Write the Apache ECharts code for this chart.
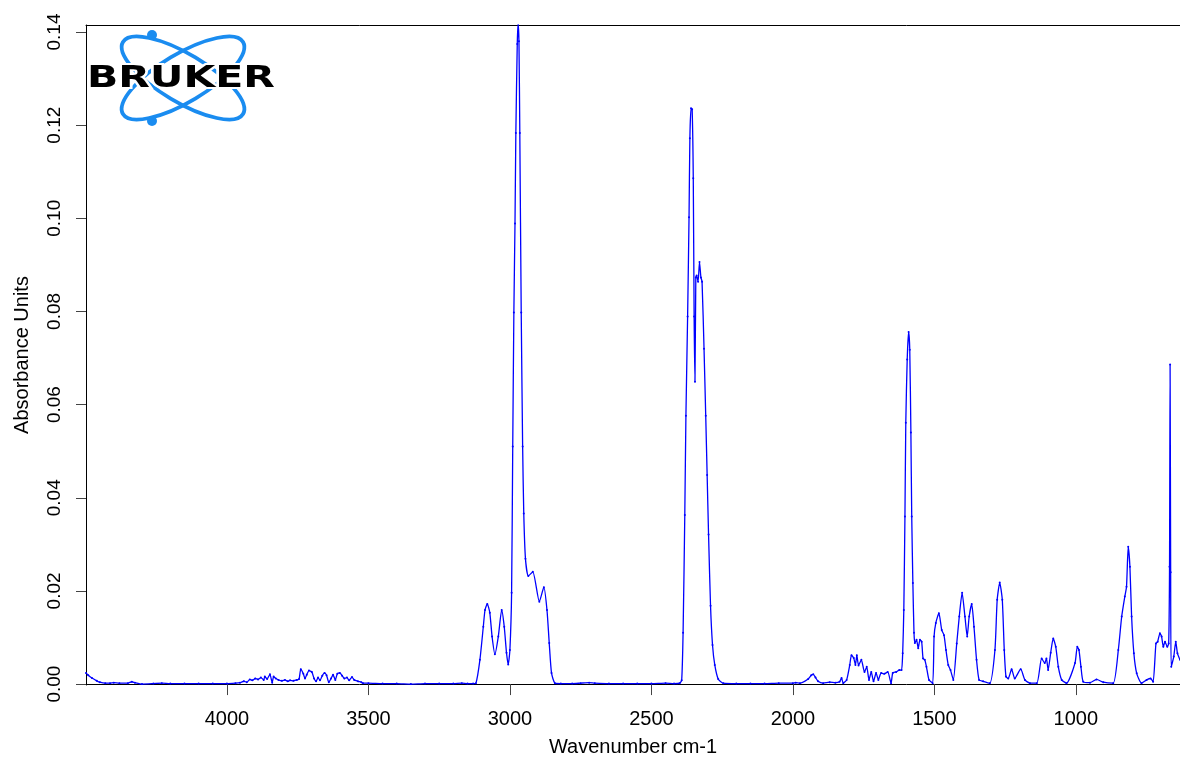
<!DOCTYPE html>
<html>
<head>
<meta charset="utf-8">
<title>IR spectrum</title>
<script src="https://cdn.jsdelivr.net/npm/echarts@6/dist/echarts.min.js"></script>
<style>
  html, body { margin: 0; padding: 0; background: #fff; }
  #chart { width: 1180px; height: 763px; }
</style>
</head>
<body>
<div id="chart"></div>
<script>
// wavenumber (cm-1), read left to right off the picture
const wavenumbers = [
  4498, 4490, 4477, 4460, 4449, 4430, 4413, 4400, 4380, 4350, 4336, 4325, 4300, 4260, 4230, 4200, 4150, 4100, 4050, 4000,
  3970, 3954, 3940, 3930, 3919, 3910, 3900, 3890, 3880, 3870, 3866, 3858, 3848, 3840, 3835, 3827, 3818, 3806, 3795, 3785,
  3777, 3765, 3753, 3745, 3739, 3730, 3724, 3718, 3710, 3700, 3692, 3685, 3678, 3671, 3663, 3655, 3648, 3640, 3632, 3625,
  3617, 3610, 3601, 3593, 3585, 3576, 3568, 3558, 3550, 3537, 3525, 3519, 3500, 3450, 3400, 3350, 3300, 3250, 3200, 3170,
  3150, 3130, 3120,
  3106, 3094, 3088, 3080, 3071, 3063, 3053, 3041, 3029, 3020, 3012, 3006, 3000, 2994, 2990, 2986, 2982, 2979, 2974, 2971,
  2968, 2965, 2960, 2955, 2951, 2945, 2935, 2919, 2896, 2880, 2869, 2861, 2853, 2841,
  2820, 2780, 2750, 2720, 2700, 2650, 2600, 2550, 2500, 2450, 2420, 2400,
  2393, 2388, 2382, 2378, 2372, 2367, 2364, 2360, 2356, 2352, 2349, 2346, 2343, 2340, 2335, 2330, 2325, 2321, 2314, 2308,
  2303, 2298, 2291, 2284, 2276, 2264, 2246,
  2200, 2150, 2100, 2050, 2000, 1990, 1975, 1946, 1935, 1928, 1920, 1911, 1893, 1870, 1850, 1835, 1828, 1822, 1810,
  1799, 1793, 1785, 1779, 1774, 1768, 1758, 1747, 1739, 1731, 1723, 1715, 1706, 1698, 1688, 1677, 1665, 1653, 1647, 1635,
  1624, 1616, 1612, 1608, 1604, 1601, 1596, 1591, 1587, 1583, 1580, 1576, 1572, 1569, 1563, 1557, 1551, 1545, 1540, 1534,
  1528, 1519, 1506, 1501, 1495, 1484, 1474, 1466, 1459, 1451, 1443, 1433, 1421, 1412, 1402, 1392, 1384, 1377, 1368, 1360,
  1351, 1342, 1328, 1304, 1286, 1278, 1269, 1260, 1253, 1247, 1239, 1227, 1216, 1195, 1180, 1162, 1138, 1121, 1110, 1104,
  1098, 1089, 1080, 1071, 1062, 1050, 1033, 1003, 995, 989, 982, 974, 950, 927, 903, 868, 850, 838, 827, 821,
  815, 809, 803, 795, 785, 768, 750, 736, 727, 717, 711, 703, 697, 691, 685, 677, 672, 669, 667, 665,
  663, 654, 647, 641, 632
];

// absorbance units, one per wavenumber
const absorbance = [
  0.0024, 0.0019, 0.0013, 0.0007, 0.0004, 0.0002, 0.0002, 0.0003, 0.0002, 0.0002, 0.0005, 0.0003, 0.0000, 0.0001, 0.0002, 0.0001, 0.0001, 0.0001, 0.0001, 0.0001,
  0.0002, 0.0003, 0.0006, 0.0004, 0.0010, 0.0008, 0.0012, 0.0010, 0.0014, 0.0009, 0.0016, 0.0011, 0.0021, 0.0003, 0.0016, 0.0012, 0.0009, 0.0007, 0.0009, 0.0006,
  0.0008, 0.0007, 0.0009, 0.0011, 0.0032, 0.0022, 0.0012, 0.0020, 0.0029, 0.0026, 0.0012, 0.0006, 0.0014, 0.0008, 0.0018, 0.0024, 0.0019, 0.0004, 0.0012, 0.0020,
  0.0009, 0.0022, 0.0024, 0.0018, 0.0012, 0.0014, 0.0008, 0.0015, 0.0009, 0.0006, 0.0004, 0.0002, 0.0002, 0.0001, 0.0001, 0.0000, 0.0001, 0.0001, 0.0001, 0.0002,
  0.0001, 0.0001, 0.0002,
  0.0052, 0.0123, 0.0159, 0.0172, 0.0153, 0.0102, 0.0064, 0.0102, 0.0159, 0.0123, 0.0067, 0.0042, 0.0073, 0.0196, 0.0510, 0.0798, 0.0989, 0.1183, 0.1374, 0.1418,
  0.1380, 0.1183, 0.0798, 0.0510, 0.0366, 0.0269, 0.0232, 0.0241, 0.0177, 0.0208, 0.0159, 0.0088, 0.0024, 0.0002,
  0.0001, 0.0001, 0.0002, 0.0003, 0.0002, 0.0001, 0.0001, 0.0001, 0.0001, 0.0002, 0.0001, 0.0002,
  0.0008, 0.0110, 0.0363, 0.0576, 0.0789, 0.1002, 0.1172, 0.1236, 0.1234, 0.1086, 0.0789, 0.0649, 0.0873, 0.0877, 0.0864, 0.0906, 0.0873, 0.0864, 0.0720, 0.0576,
  0.0449, 0.0321, 0.0168, 0.0084, 0.0041, 0.0011, 0.0002,
  0.0001, 0.0001, 0.0001, 0.0002, 0.0002, 0.0003, 0.0002, 0.0011, 0.0019, 0.0021, 0.0014, 0.0006, 0.0002, 0.0004, 0.0003, 0.0005, 0.0013, 0.0002, 0.0009,
  0.0041, 0.0062, 0.0056, 0.0041, 0.0062, 0.0040, 0.0052, 0.0026, 0.0037, 0.0009, 0.0026, 0.0006, 0.0024, 0.0009, 0.0024, 0.0022, 0.0026, 0.0002, 0.0024, 0.0026,
  0.0030, 0.0030, 0.0066, 0.0159, 0.0360, 0.0561, 0.0697, 0.0756, 0.0718, 0.0540, 0.0360, 0.0217, 0.0110, 0.0088, 0.0095, 0.0077, 0.0095, 0.0091, 0.0055, 0.0052,
  0.0037, 0.0009, 0.0002, 0.0102, 0.0131, 0.0152, 0.0116, 0.0105, 0.0073, 0.0041, 0.0030, 0.0009, 0.0087, 0.0145, 0.0196, 0.0145, 0.0102, 0.0145, 0.0172, 0.0123,
  0.0052, 0.0009, 0.0006, 0.0002, 0.0073, 0.0181, 0.0218, 0.0181, 0.0073, 0.0016, 0.0012, 0.0032, 0.0012, 0.0032, 0.0009, 0.0002, 0.0002, 0.0055, 0.0045, 0.0055,
  0.0030, 0.0067, 0.0098, 0.0080, 0.0037, 0.0009, 0.0002, 0.0045, 0.0080, 0.0073, 0.0037, 0.0005, 0.0003, 0.0010, 0.0004, 0.0002, 0.0073, 0.0145, 0.0188, 0.0209,
  0.0295, 0.0252, 0.0145, 0.0066, 0.0023, 0.0002, 0.0009, 0.0012, 0.0005, 0.0087, 0.0091, 0.0109, 0.0102, 0.0080, 0.0091, 0.0080, 0.0087, 0.0252, 0.0686, 0.0240,
  0.0037, 0.0059, 0.0091, 0.0066, 0.0052
];

const xTicks = [1000, 1500, 2000, 2500, 3000, 3500, 4000];
const yTicks = [0, 0.02, 0.04, 0.06, 0.08, 0.10, 0.12, 0.14];

const chart = echarts.init(document.getElementById('chart'));

const points = wavenumbers.map((w, i) => [w, absorbance[i]]);
const blue = '#1a8cf0';

const option = {
  animation: false,
  backgroundColor: '#fff',
  grid: { left: 86, right: 0, top: 25, bottom: 78 },
  xAxis: [{
    type: 'value',
    min: 632,
    max: 4498,
    inverse: true,
    name: 'Wavenumber cm-1',
    nameLocation: 'middle',
    nameGap: 52,
    nameTextStyle: { fontFamily: 'Liberation Sans', fontSize: 20, color: '#000' },
    axisLine: { lineStyle: { color: '#000', width: 1 } },
    axisTick: { customValues: xTicks, length: 11, lineStyle: { color: '#444' } },
    axisLabel: {
      customValues: xTicks, margin: 24,
      fontFamily: 'Liberation Sans', fontSize: 20, color: '#000',
      formatter: v => String(v)
    },
    splitLine: { show: false }
  }, {
    type: 'value',
    position: 'top',
    min: 632,
    max: 4498,
    inverse: true,
    axisLine: { show: true, lineStyle: { color: '#000', width: 1 } },
    axisTick: { show: false },
    axisLabel: { show: false },
    splitLine: { show: false }
  }],
  yAxis: {
    type: 'value',
    min: -0.0002,
    max: 0.1415,
    name: 'Absorbance Units',
    nameLocation: 'middle',
    nameRotate: 90,
    nameGap: 54,
    nameTextStyle: { fontFamily: 'Liberation Sans', fontSize: 20, color: '#000' },
    axisLine: { show: true, lineStyle: { color: '#000', width: 1 } },
    axisTick: { show: true, customValues: yTicks, length: 10, lineStyle: { color: '#444' } },
    axisLabel: {
      customValues: yTicks, rotate: 90, margin: 22,
      fontFamily: 'Liberation Sans', fontSize: 19, color: '#000',
      formatter: v => v.toFixed(2)
    },
    splitLine: { show: false }
  },
  series: [{
    type: 'line',
    data: points,
    smooth: 0.2,
    showSymbol: true,
    symbol: 'circle',
    symbolSize: 2,
    itemStyle: { color: '#0000ff' },
    lineStyle: { color: '#0000ff', width: 1.3 },
    emphasis: { disabled: true }
  }],
  graphic: [
    { type: 'ellipse', x: 183, y: 78, rotation: 0.54, shape: { cx: 0, cy: 0, rx: 70, ry: 24 },
      style: { fill: null, stroke: blue, lineWidth: 3.8 } },
    { type: 'ellipse', x: 183, y: 78, rotation: -0.54, shape: { cx: 0, cy: 0, rx: 70, ry: 24 },
      style: { fill: null, stroke: blue, lineWidth: 3.8 } },
    { type: 'circle', shape: { cx: 152, cy: 35, r: 5 }, style: { fill: blue } },
    { type: 'circle', shape: { cx: 152, cy: 121, r: 5 }, style: { fill: blue } },
    { type: 'text', x: 181, y: 79, scaleX: 1.37,
      style: { text: 'BRUKER', font: 'bold 30px "DejaVu Sans"', fill: '#000',
        stroke: '#fff', lineWidth: 4, align: 'center', verticalAlign: 'middle' } }
  ]
};

chart.setOption(option);
</script>
</body>
</html>
